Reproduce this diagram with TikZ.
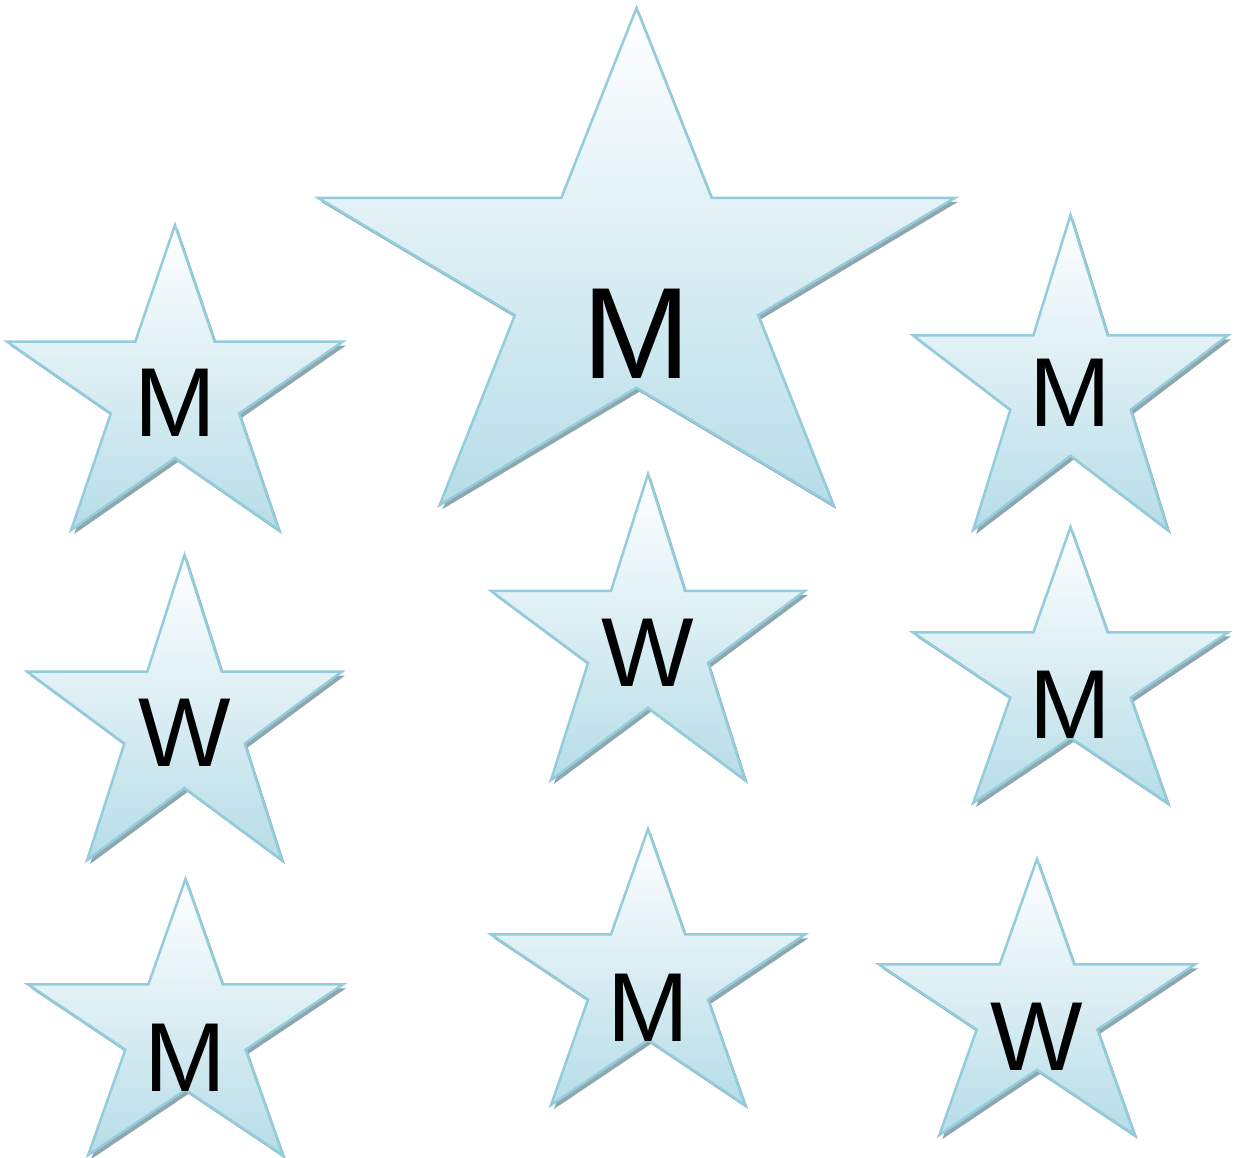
\documentclass[tikz,border=0pt]{standalone}
\usepackage{fontspec}
\setmainfont{Liberation Sans}
\usepackage{xcolor}
\usepackage{tikz}

\definecolor{starline}{RGB}{147,205,221}
\definecolor{starfill}{RGB}{183,221,232}
\definecolor{starshadow}{RGB}{143,166,172}

\tikzset{
  starbody/.style={draw=starline,line width=2.5pt,line join=miter,top color=white,bottom color=starfill},
  starshade/.style={fill=starshadow},
  starlabel/.style={inner sep=0pt,text=black}
}

\newcommand{\starpath}{(0.5,0) -- (0.618,0.382) -- (1,0.382) -- (0.691,0.618) -- (0.809,1) -- (0.5,0.764) -- (0.191,1) -- (0.309,0.618) -- (0,0.382) -- (0.382,0.382) -- cycle}

\begin{document}
\begin{tikzpicture}[x=1pt,y=-1pt]
			\useasboundingbox (0,0) rectangle (1234,1157);
			% stars: left, top, width, height, label y, font size, name, letter
			\foreach \x/\y/\w/\h/\ly/\fs/\nm/\txt in {
				318/8/637/497/334/130/bigM/M,
				7/225/336/305/403/98/leftTopM/M,
				913/215/315/315/393/98/rightTopM/M,
				27/555/315/305/733/98/leftMidW/W,
				491/474/314/306/653/98/midW/W,
				913/527/315/276/705/98/rightMidM/M,
				28/879/315/276/1058/98/leftBotM/M,
				491/829/314/276/1008/98/midBotM/M,
				879/859/316/276/1037/98/rightBotW/W}
			{
				\begin{scope}[shift={(\x+3,\y+4)},xscale=\w,yscale=\h]
					\fill[starshade] \starpath;
				\end{scope}
				\begin{scope}[shift={(\x,\y)},xscale=\w,yscale=\h]
					\path[starbody] \starpath;
				\end{scope}
				\node[starlabel,font=\fontsize{\fs}{\fs}\selectfont] (\nm) at ({\x+\w/2},\ly) {\txt};
			}
		\end{tikzpicture}
\end{document}
